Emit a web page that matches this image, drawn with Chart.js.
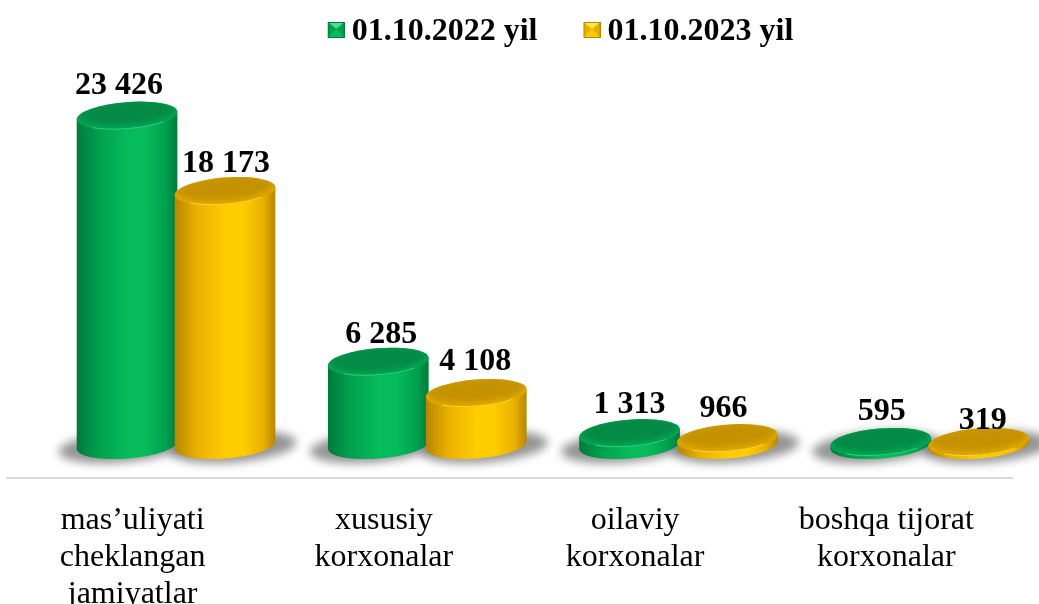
<!DOCTYPE html>
<html>
<head>
<meta charset="utf-8">
<title>Korxonalar</title>
<script src="https://cdn.jsdelivr.net/npm/chart.js@4"></script>
<style>
  html, body { margin: 0; padding: 0; background: #fff; overflow: hidden; }
  #wrap { width: 1039px; height: 604px; }
</style>
</head>
<body>
<div id="wrap"><canvas id="chart"></canvas></div>
<script>
const categories = [
  ["mas’uliyati", "cheklangan", "jamiyatlar"],
  ["xususiy", "korxonalar"],
  ["oilaviy", "korxonalar"],
  ["boshqa tijorat", "korxonalar"],
];
const seriesNames = ["01.10.2022 yil", "01.10.2023 yil"];
const values2022 = [23426, 6285, 1313, 595];
const values2023 = [18173, 4108, 966, 319];

const FONT = '"Liberation Serif", "Times New Roman", serif';

// colours of the fake 3D cylinders
const skins = [
  { edge: "#007a3c", side: "#00a04e", mid: "#06bb5b", cap: "#038a45", rim: "#06a856", glow: "#2fd07f", light: "#4fe08f" },
  { edge: "#b58600", side: "#eab000", mid: "#ffcc00", cap: "#c49200", rim: "#e4ac00", glow: "#ffd633", light: "#ffe94d" },
];

// the 3D floor sits up and to the right of the axis line
const depthX = 43.4;
const depthTop = 26;
const depthBase = 33;
const minThickness = 3;
const tilt = -4.6 * Math.PI / 180;
const capRy = 13.5;

const numberText = (v) => String(v).replace(/\B(?=(\d{3})+$)/g, " ");

// legend marker, a small bevelled square, top right of a bigger canvas
const makeMarker = (skin) => {
  const c = document.createElement("canvas");
  c.width = 26;
  c.height = 20;
  const g = c.getContext("2d");
  g.translate(9, 0);
  const tri = (color, pts) => {
    g.fillStyle = color;
    g.beginPath();
    pts.forEach((p, i) => (i ? g.lineTo(p[0], p[1]) : g.moveTo(p[0], p[1])));
    g.closePath();
    g.fill();
  };
  g.fillStyle = skin.mid;
  g.fillRect(0, 0, 17, 16);
  tri(skin.light, [[0, 0], [17, 0], [8.5, 7]]);
  tri(skin.side, [[0, 0], [0, 16], [8.5, 7]]);
  tri(skin.side, [[17, 0], [17, 16], [8.5, 7]]);
  tri(skin.mid, [[0, 16], [17, 16], [8.5, 7]]);
  g.strokeStyle = skin.edge;
  g.strokeRect(0.5, 0.5, 16, 15);
  return c;
};

const cylinderPlugin = {
  id: "cylinders",
  afterLayout(chart) {
    // legend is not centred on the page in the original
    chart.legend.left += 51;
    chart.legend.right += 51;
    chart.legend.top -= 30;
  },
  afterDatasetsDraw(chart, args, opts) {
    const ctx = chart.ctx;
    const metas = chart.data.datasets.map((d, i) => chart.getDatasetMeta(i));

    // floor shadows first
    metas.forEach((meta) => {
      meta.data.forEach((bar) => {
        const cx = bar.x + depthX;
        const by = bar.base - depthBase;
        ctx.save();
        ctx.filter = "blur(5px)";
        ctx.fillStyle = "rgba(70,70,70,0.58)";
        ctx.beginPath();
        ctx.ellipse(cx + (meta.index ? 8 : -5), by + 2, opts.drawWidth / 2 + 13, capRy + 2, tilt, 0, Math.PI * 2);
        ctx.fill();
        ctx.restore();
      });
    });

    metas.forEach((meta, s) => {
      const skin = skins[s];
      meta.data.forEach((bar, i) => {
        const cx = bar.x + depthX;
        const by = bar.base - depthBase;
        const ty = Math.min(bar.y - depthTop, by - minThickness);
        const rx = opts.drawWidth / 2;
        const dx = rx * Math.cos(tilt);
        const dy = rx * Math.sin(tilt);

        // body
        const grad = ctx.createLinearGradient(cx - rx, 0, cx + rx, 0);
        grad.addColorStop(0, skin.edge);
        grad.addColorStop(0.22, skin.side);
        grad.addColorStop(0.5, skin.mid);
        grad.addColorStop(0.68, skin.mid);
        grad.addColorStop(0.88, skin.side);
        grad.addColorStop(1, skin.edge);
        ctx.fillStyle = grad;
        ctx.beginPath();
        ctx.moveTo(cx - dx, ty - dy);
        ctx.lineTo(cx - dx, by - dy);
        ctx.ellipse(cx, by, rx, capRy, tilt, Math.PI, 0, true);
        ctx.lineTo(cx + dx, ty + dy);
        ctx.closePath();
        ctx.fill();

        // cap
        ctx.fillStyle = skin.rim;
        ctx.beginPath();
        ctx.ellipse(cx, ty, rx, capRy, tilt, 0, Math.PI * 2);
        ctx.fill();
        ctx.save();
        ctx.beginPath();
        ctx.ellipse(cx, ty, rx, capRy, tilt, 0, Math.PI * 2);
        ctx.clip();
        ctx.filter = "blur(3px)";
        ctx.fillStyle = skin.cap;
        ctx.beginPath();
        ctx.ellipse(cx, ty - 3, rx - 1, capRy - 1, tilt, 0, Math.PI * 2);
        ctx.fill();
        ctx.restore();
        ctx.strokeStyle = skin.glow;
        ctx.lineWidth = 1;
        ctx.beginPath();
        ctx.ellipse(cx, ty, rx - 0.5, capRy - 0.5, tilt, Math.PI * 0.25, Math.PI * 0.75);
        ctx.stroke();

        // value label
        const nudge = opts.labelNudge[s][i];
        ctx.fillStyle = "#000";
        ctx.font = "bold 32px " + FONT;
        ctx.textAlign = "center";
        ctx.textBaseline = "middle";
        ctx.fillText(numberText(chart.data.datasets[s].data[i]), cx + nudge[0], ty + nudge[1]);
      });
    });
  },
};

new Chart(document.getElementById("chart"), {
  type: "bar",
  plugins: [cylinderPlugin],
  data: {
    labels: categories,
    datasets: [
      { label: seriesNames[0], data: values2022, backgroundColor: "transparent", pointStyle: makeMarker(skins[0]) },
      { label: seriesNames[1], data: values2023, backgroundColor: "transparent", pointStyle: makeMarker(skins[1]) },
    ],
  },
  options: {
    responsive: true,
    maintainAspectRatio: false,
    animation: false,
    layout: { padding: { left: 7, right: 27, top: 0, bottom: 0 } },
    categoryPercentage: 0.78,
    barPercentage: 1,
    scales: {
      x: {
        grid: { display: false, drawTicks: false },
        border: { display: true, color: "#d9d9d9", width: 2 },
        afterFit: (scale) => { scale.height = 126; },
        ticks: {
          color: "#000",
          font: { family: FONT, size: 32, lineHeight: 1.156 },
          padding: 24,
          maxRotation: 0,
          minRotation: 0,
          autoSkip: false,
        },
      },
      y: { display: false, min: 0, max: 27160 },
    },
    plugins: {
      tooltip: { enabled: false },
      legend: {
        position: "top",
        labels: {
          usePointStyle: true,
          boxWidth: 8,
          boxHeight: 16,
          padding: 46,
          color: "#000",
          font: { family: FONT, size: 32, weight: "bold" },
        },
      },
      cylinders: {
        drawWidth: 101,
        // per-label fine adjustment of the value text
        labelNudge: [
          [[-8, -30], [3, -27], [0, -28], [1, -30]],
          [[1, -27], [-1, -31], [-4, -29], [4, -21]],
        ],
      },
    },
  },
});
</script>
</body>
</html>
